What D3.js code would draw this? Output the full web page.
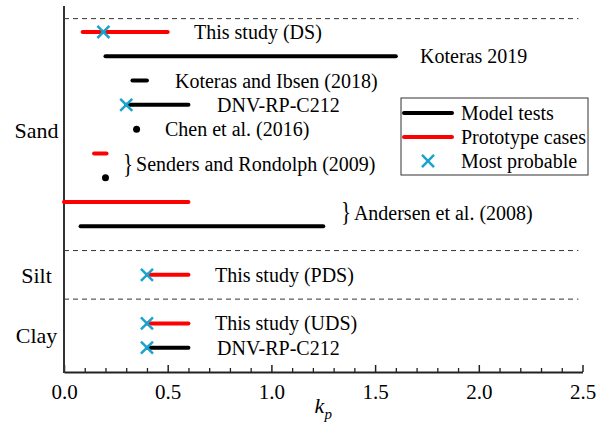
<!DOCTYPE html>
<html>
<head>
<meta charset="UTF-8">
<script src="https://d3js.org/d3.v7.min.js"></script>
<style>
  body { margin: 0; background: #fff; }
  svg { display: block; }
  svg text { font-family: "Liberation Serif", "Times New Roman", serif; }
</style>
</head>
<body>
<svg width="596" height="433"></svg>
<script>
// ranges (row index, low, high, kind: M = model tests, P = prototype cases)
const lineRow  = [0,    1,   2,    3,   5,     7,   8,    10,  12,  13];
const lineLo   = [0.09, 0.2, 0.33, 0.3, 0.145, 0.0, 0.08, 0.4, 0.4, 0.4];
const lineHi   = [0.5,  1.6, 0.4,  0.6, 0.205, 0.6, 1.25, 0.6, 0.6, 0.6];
const lineKind = ["P",  "M", "M",  "M", "P",   "P", "M",  "P", "P", "M"];

// single points
const dotRow = [4, 6];
const dotX   = [0.35, 0.2];

// most probable values
const probRow = [0, 3, 10, 12, 13];
const probX   = [0.19, 0.3, 0.4, 0.4, 0.4];

// source labels
const labelText = ["This study (DS)", "Koteras 2019", "Koteras and Ibsen (2018)", "DNV-RP-C212",
                   "Chen et al. (2016)", "This study (PDS)", "This study (UDS)", "DNV-RP-C212"];
const labelX    = [0.627, 1.717, 0.535, 0.738, 0.487, 0.728, 0.728, 0.738];
const labelRow  = [0, 1, 2, 3, 4, 10, 12, 13];

// grouped labels with a brace
const braceText = ["Senders and Rondolph (2009)", "Andersen et al. (2008)"];
const braceX    = [0.285, 1.335];
const braceRow  = [5.45, 7.45];

// soil types
const soils   = ["Sand", "Silt", "Clay"];
const soilRow = [4.05, 10, 12.5];
const dividers = [-0.55, 9, 11];

const xTicks = [0, 0.5, 1, 1.5, 2, 2.5];
const legendNames = ["Model tests", "Prototype cases", "Most probable"];

const colors = { M: "#000", P: "#f00" };
const cyan = "#1aa3cc";
const serif = "Liberation Serif, Times New Roman, serif";

const svg = d3.select("svg");
const x = d3.scaleLinear().domain([0, 2.5]).range([64, 582.5]);
const y = d3.scaleLinear().domain([-1.07, 14]).range([6, 372]);

// dashed separators
svg.selectAll(".div").data(dividers).join("line")
  .attr("x1", x(0)).attr("x2", x(2.48))
  .attr("y1", d => y(d)).attr("y2", d => y(d))
  .attr("stroke", "#333").attr("stroke-width", 1)
  .attr("stroke-dasharray", "5,4");

// x axis with minor ticks
const minor = d3.range(0, 2.51, 0.1).filter(v => Math.abs(v * 2 - Math.round(v * 2)) > 1e-6);
svg.append("g").attr("transform", `translate(0,${y(14)})`)
  .call(d3.axisBottom(x).tickValues(minor).tickSize(-4).tickSizeOuter(0).tickFormat(""))
  .call(g => g.select(".domain").remove())
  .call(g => g.selectAll("line").attr("stroke", "#222").attr("stroke-width", 1.3));

const xAxis = svg.append("g").attr("transform", `translate(0,${y(14)})`)
  .call(d3.axisBottom(x).tickValues(xTicks).tickSize(-7).tickSizeOuter(0)
    .tickPadding(12).tickFormat(d3.format(".1f")))
  .attr("font-family", serif);
xAxis.select(".domain").attr("stroke", "#222").attr("stroke-width", 2);
xAxis.selectAll("line").attr("stroke", "#222").attr("stroke-width", 1.5);
xAxis.selectAll("text").attr("font-size", 21).attr("fill", "#000");

// left axis line
svg.append("line")
  .attr("x1", x(0)).attr("x2", x(0)).attr("y1", y(-1.07)).attr("y2", y(14) + 1)
  .attr("stroke", "#333").attr("stroke-width", 2);

// axis title
const title = svg.append("text").attr("x", x(1.25)).attr("y", 413)
  .attr("text-anchor", "middle").attr("font-size", 22).attr("font-style", "italic");
title.append("tspan").text("k");
title.append("tspan").text("p").attr("font-size", 15).attr("dy", 6);

// range lines
svg.selectAll(".rng").data(d3.range(lineRow.length)).join("line")
  .attr("x1", i => x(lineLo[i])).attr("x2", i => x(lineHi[i]))
  .attr("y1", i => y(lineRow[i])).attr("y2", i => y(lineRow[i]))
  .attr("stroke", i => colors[lineKind[i]])
  .attr("stroke-width", 4).attr("stroke-linecap", "round");

// dots
svg.selectAll(".dot").data(d3.range(dotRow.length)).join("circle")
  .attr("cx", i => x(dotX[i])).attr("cy", i => y(dotRow[i])).attr("r", 3.5)
  .attr("fill", "#000");

// most probable markers
const cross = d3.symbol(d3.symbolTimes, 96);
svg.selectAll(".prob").data(d3.range(probRow.length)).join("path")
  .attr("d", cross)
  .attr("transform", i => `translate(${x(probX[i])},${y(probRow[i])})`)
  .attr("fill", "none").attr("stroke", cyan).attr("stroke-width", 2.5);

// labels
svg.selectAll(".lbl").data(d3.range(labelText.length)).join("text")
  .attr("x", i => x(labelX[i])).attr("y", i => y(labelRow[i])).attr("dy", "0.35em")
  .attr("font-size", 20).text(i => labelText[i]);

// thin, stretched braces
svg.selectAll(".brace").data(d3.range(braceText.length)).join("text")
  .attr("transform", i => `translate(${x(braceX[i])},${y(braceRow[i])}) scale(1,1.3)`)
  .attr("dy", "0.3em").attr("font-size", 21).text("}");
svg.selectAll(".btxt").data(d3.range(braceText.length)).join("text")
  .attr("x", i => x(braceX[i]) + 13).attr("y", i => y(braceRow[i])).attr("dy", "0.35em")
  .attr("font-size", 20).text(i => braceText[i]);

// soil labels
svg.selectAll(".soil").data(d3.range(soils.length)).join("text")
  .attr("x", 36.5).attr("y", i => y(soilRow[i])).attr("dy", "0.35em")
  .attr("text-anchor", "middle").attr("font-size", 22).text(i => soils[i]);

// legend
const lg = svg.append("g").attr("transform", "translate(401,98)");
lg.append("rect").attr("width", 187).attr("height", 77)
  .attr("fill", "#fff").attr("stroke", "#333").attr("stroke-width", 1);
const ly = [15, 39, 63];
lg.append("line").attr("x1", 3).attr("x2", 51).attr("y1", ly[0]).attr("y2", ly[0])
  .attr("stroke", colors.M).attr("stroke-width", 4).attr("stroke-linecap", "round");
lg.append("line").attr("x1", 3).attr("x2", 51).attr("y1", ly[1]).attr("y2", ly[1])
  .attr("stroke", colors.P).attr("stroke-width", 4).attr("stroke-linecap", "round");
lg.append("path").attr("d", cross).attr("transform", `translate(27,${ly[2]})`)
  .attr("fill", "none").attr("stroke", cyan).attr("stroke-width", 2.5);
lg.selectAll(".lt").data(legendNames).join("text")
  .attr("x", 60).attr("y", (d, i) => ly[i]).attr("dy", "0.35em")
  .attr("font-size", 20).text(d => d);
</script>
</body>
</html>
